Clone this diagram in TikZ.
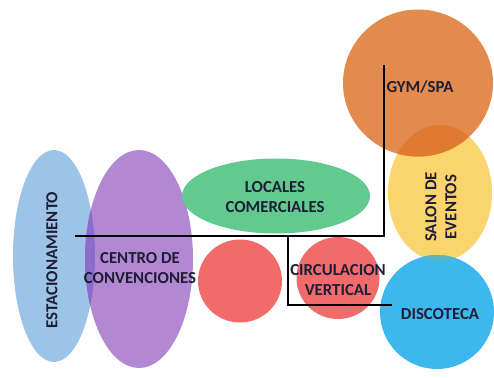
\documentclass[tikz,border=0pt]{standalone}
\usepackage{fontspec}
\setmainfont{Carlito}
\usetikzlibrary{shapes.geometric}
\definecolor{cEst}{HTML}{9DC3E6}
\definecolor{cConv}{HTML}{B388D3}
\definecolor{cEstConv}{HTML}{8C6CCB}
\definecolor{cLoc}{HTML}{62C98F}
\definecolor{cRed}{HTML}{F26B6B}
\definecolor{cGym}{HTML}{E38A4F}
\definecolor{cSalon}{HTML}{FAD56E}
\definecolor{cGymSalon}{HTML}{E07A30}
\definecolor{cDisco}{HTML}{3CB8EE}
\definecolor{cDiscoSalon}{HTML}{5CB4BE}
\definecolor{cTxt}{HTML}{1E1E36}
\tikzset{
  zone/.style={ellipse, draw=none, inner sep=0pt},
  lbl/.style={font=\fontsize{16.8}{20}\selectfont\bfseries, text=cTxt, align=center, inner sep=0pt},
  link/.style={draw=black, line width=2.2pt}
}
\begin{document}
\begin{tikzpicture}[x=1pt,y=-1pt]
\useasboundingbox (0,0) rectangle (494,377);
% zones
\node[zone, fill=cEst, minimum width=82pt, minimum height=212pt] (est) at (54,256) {};
\node[zone, fill=cConv, minimum width=108pt, minimum height=218pt] (conv) at (139,259) {};
\begin{scope}
  \clip (54,256) ellipse [x radius=41pt, y radius=106pt];
  \fill[cEstConv] (139,259) ellipse [x radius=54pt, y radius=109pt];
\end{scope}
\node[zone, fill=cLoc, minimum width=188pt, minimum height=75pt] (loc) at (276,196) {};
\node[zone, fill=cRed, minimum width=84pt, minimum height=83pt] (red) at (240,281) {};
\node[zone, fill=cRed, minimum width=83pt, minimum height=82pt] (circ) at (338,278) {};
\node[zone, fill=cSalon, minimum width=104pt, minimum height=136pt] (salon) at (440,193) {};
\node[zone, fill=cGym, minimum width=150pt, minimum height=147pt] (gym) at (418,83) {};
\node[zone, fill=cDisco, minimum width=114pt, minimum height=114pt] (disco) at (437,312) {};
\begin{scope}
  \clip (440,193) ellipse [x radius=52pt, y radius=68pt];
  \fill[cGymSalon] (418,83) ellipse [x radius=75pt, y radius=73.5pt];
  \fill[cDiscoSalon] (437,312) ellipse [x radius=57pt, y radius=57pt];
\end{scope}
% labels
\node[lbl, rotate=90] (estl) at (52,260) {ESTACIONAMIENTO};
\node[lbl] (convl) at (140,268) {CENTRO DE\\CONVENCIONES};
\node[lbl] (locl) at (275,197) {LOCALES\\COMERCIALES};
\node[lbl] (circl) at (338,280) {CIRCULACION\\VERTICAL};
\node[lbl] (gyml) at (420,87) {GYM/SPA};
\node[lbl, rotate=90] (salonl) at (441,207) {SALON DE\\EVENTOS};
\node[lbl] (discol) at (440,314) {DISCOTECA};
% connectors
\coordinate (hstart) at (75,236);
\coordinate (hcorner) at (384,236);
\coordinate (vtop) at (384,65);
\coordinate (bstart) at (288,236);
\coordinate (bcorner) at (288,305);
\coordinate (bend) at (392,305);
\draw[link, line join=miter] (hstart) -- (hcorner) -- (vtop);
\draw[link, line join=miter] (bstart) -- (bcorner) -- (bend);
\end{tikzpicture}
\end{document}
